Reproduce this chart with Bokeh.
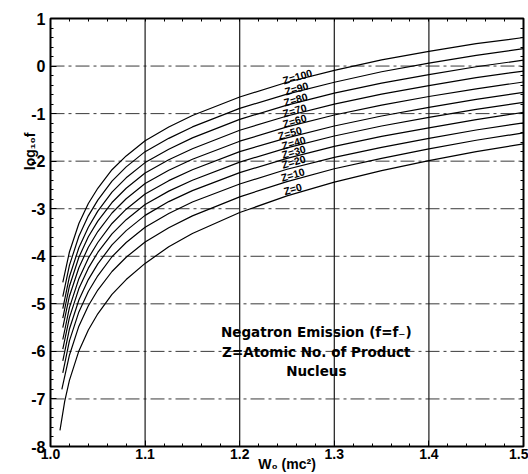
from bokeh.plotting import figure
from bokeh.models import (Range1d, LinearAxis, SingleIntervalTicker, FixedTicker,
                          PrintfTickFormatter, Label, Title, ColumnDataSource)
from bokeh.core.properties import value
from bokeh.embed import file_html
from bokeh.resources import INLINE

# Total energy W0 (mc^2) sample points and log10 f for each Z of the product nucleus
w_z0 = [1.010, 1.015, 1.02, 1.03, 1.04, 1.05, 1.065, 1.08, 1.1, 1.125, 1.15, 1.2, 1.25, 1.3, 1.35, 1.4, 1.45, 1.5]
logf_z0 = [-7.66, -7.05, -6.61, -5.99, -5.55, -5.21, -4.80, -4.49, -4.15, -3.80, -3.52, -3.08, -2.73, -2.44, -2.20, -1.99, -1.80, -1.635]

w_z10 = [1.012, 1.02, 1.03, 1.04, 1.05, 1.065, 1.08, 1.1, 1.125, 1.15, 1.2, 1.25, 1.3, 1.35, 1.4, 1.45, 1.5]
w_zn = [1.013, 1.02, 1.03, 1.04, 1.05, 1.065, 1.08, 1.1, 1.125, 1.15, 1.2, 1.25, 1.3, 1.35, 1.4, 1.45, 1.5]

logf_z10 = [-6.80, -6.08, -5.47, -5.04, -4.71, -4.32, -4.02, -3.70, -3.40, -3.15, -2.75, -2.43, -2.16, -1.94, -1.74, -1.56, -1.405]
logf_z20 = [-6.45, -5.78, -5.17, -4.74, -4.41, -4.01, -3.71, -3.39, -3.10, -2.86, -2.48, -2.17, -1.92, -1.71, -1.52, -1.345, -1.195]
logf_z30 = [-6.20, -5.53, -4.92, -4.49, -4.16, -3.76, -3.46, -3.14, -2.85, -2.62, -2.24, -1.94, -1.69, -1.48, -1.30, -1.125, -0.975]
logf_z40 = [-5.95, -5.29, -4.68, -4.25, -3.92, -3.53, -3.23, -2.91, -2.63, -2.40, -2.02, -1.72, -1.47, -1.26, -1.08, -0.91, -0.765]
logf_z50 = [-5.75, -5.08, -4.47, -4.04, -3.71, -3.31, -3.01, -2.69, -2.41, -2.18, -1.80, -1.51, -1.26, -1.05, -0.87, -0.70, -0.555]
logf_z60 = [-5.50, -4.84, -4.24, -3.81, -3.48, -3.09, -2.79, -2.47, -2.19, -1.96, -1.58, -1.28, -1.03, -0.82, -0.64, -0.48, -0.335]
logf_z70 = [-5.30, -4.63, -4.02, -3.59, -3.26, -2.87, -2.57, -2.25, -1.97, -1.74, -1.35, -1.05, -0.80, -0.59, -0.41, -0.245, -0.105]
logf_z80 = [-5.10, -4.43, -3.82, -3.39, -3.05, -2.65, -2.35, -2.03, -1.75, -1.51, -1.12, -0.82, -0.57, -0.36, -0.18, -0.015, 0.125]
logf_z90 = [-4.85, -4.19, -3.58, -3.15, -2.82, -2.42, -2.12, -1.80, -1.52, -1.28, -0.89, -0.59, -0.34, -0.12, 0.06, 0.225, 0.365]
logf_z100 = [-4.55, -3.91, -3.31, -2.89, -2.57, -2.18, -1.89, -1.57, -1.28, -1.04, -0.65, -0.34, -0.09, 0.13, 0.31, 0.47, 0.60]

curves = [
    (w_z0, logf_z0), (w_z10, logf_z10), (w_zn, logf_z20), (w_zn, logf_z30),
    (w_zn, logf_z40), (w_zn, logf_z50), (w_zn, logf_z60), (w_zn, logf_z70),
    (w_zn, logf_z80), (w_zn, logf_z90), (w_zn, logf_z100),
]

# Curve labels, sitting just above each curve
z_labels = ["Z=0", "Z=10", "Z=20", "Z=30", "Z=40", "Z=50", "Z=60", "Z=70", "Z=80", "Z=90", "Z=100"]
z_label_w = [1.256, 1.256, 1.257, 1.257, 1.257, 1.253, 1.258, 1.258, 1.259, 1.260, 1.261]
z_label_logf = [-2.58, -2.28, -2.01, -1.80, -1.61, -1.405, -1.15, -0.93, -0.70, -0.47, -0.22]

y_ticks = [-8, -7, -6, -5, -4, -3, -2, -1, 0, 1]
x_grid = [1.1, 1.2, 1.3, 1.4]

FONT = "Liberation Sans"
NOTE_FONT = "DejaVu Sans"

p = figure(width=528, height=474, x_range=Range1d(1.0, 1.5), y_range=Range1d(-8, 1),
           output_backend="svg", toolbar_location=None,
           min_border_left=50, min_border_right=5, min_border_top=18, min_border_bottom=27)
p.background_fill_color = "white"
p.border_fill_color = "white"
p.outline_line_color = "black"
p.outline_line_width = 2

p.xgrid.visible = False
p.ygrid.visible = False

# horizontal dash-dot rules at every decade
for yv in y_ticks[1:-1]:
    p.line([1.0, 1.5], [yv, yv], line_color="#3a3a3a", line_width=1, line_dash="14 4 3 4")
# vertical rules
for xv in x_grid:
    p.line([xv, xv], [-8, 1], line_color="#1a1a1a", line_width=1.2)

for w, lf in curves:
    p.line(w, lf, line_color="black", line_width=1.2)

src = ColumnDataSource(dict(x=z_label_w, y=z_label_logf, t=z_labels))
p.text(x="x", y="y", text="t", source=src, angle=0.28, text_align="center", text_baseline="middle",
       text_font=value(FONT), text_font_style="bold", text_font_size="10.5px", text_color="black")

# axes
xa = p.xaxis[0]
xa.ticker = SingleIntervalTicker(interval=0.1, num_minor_ticks=5)
xa.formatter = PrintfTickFormatter(format="%.1f")
ya = p.yaxis[0]
ya.ticker = SingleIntervalTicker(interval=1, num_minor_ticks=5)
ya.formatter = PrintfTickFormatter(format="%d")
for ax in (xa, ya):
    ax.axis_line_color = None
    ax.major_tick_in = 6
    ax.major_tick_out = 0
    ax.minor_tick_in = 3
    ax.minor_tick_out = 0
    ax.major_tick_line_color = "black"
    ax.minor_tick_line_color = "black"
    ax.major_label_text_font = FONT
    ax.major_label_text_font_style = "bold"
    ax.major_label_text_color = "black"
xa.major_label_text_font_size = "14px"
xa.major_label_standoff = 2
xa.axis_label = "W₀ (mc²)"
xa.axis_label_text_font = FONT
xa.axis_label_text_font_style = "bold"
xa.axis_label_text_font_size = "14px"
xa.axis_label_text_color = "black"
xa.axis_label_standoff = -6
ya.major_label_text_font_size = "16px"
ya.major_label_standoff = 5

# tick marks only on the top and right edges
minor_y = [-8 + 0.2 * i for i in range(46)]
minor_x = [1.0 + 0.02 * i for i in range(26)]
for loc, minors in (("right", minor_y), ("above", minor_x)):
    ax = LinearAxis(ticker=FixedTicker(ticks=[], minor_ticks=minors))
    ax.axis_line_color = None
    ax.major_tick_out = 0
    ax.minor_tick_in = 3
    ax.minor_tick_out = 0
    ax.minor_tick_line_color = "black"
    ax.major_label_standoff = 0
    p.add_layout(ax, loc)

p.add_layout(Title(text="log₁₀f", align="right", offset=114, standoff=-19,
                   text_font=FONT, text_font_style="bold", text_font_size="14px",
                   text_color="black"), "left")

for txt, yv in (("Negatron Emission (f=f₋)", -5.586), ("Z=Atomic No. of Product", -6.02), ("Nucleus", -6.42)):
    p.add_layout(Label(x=1.281, y=yv, text=txt, text_align="center", text_baseline="middle",
                       text_font=NOTE_FONT, text_font_style="bold", text_font_size="13.5px",
                       text_color="black"))

open("out.html", "w").write(file_html(p, INLINE))
